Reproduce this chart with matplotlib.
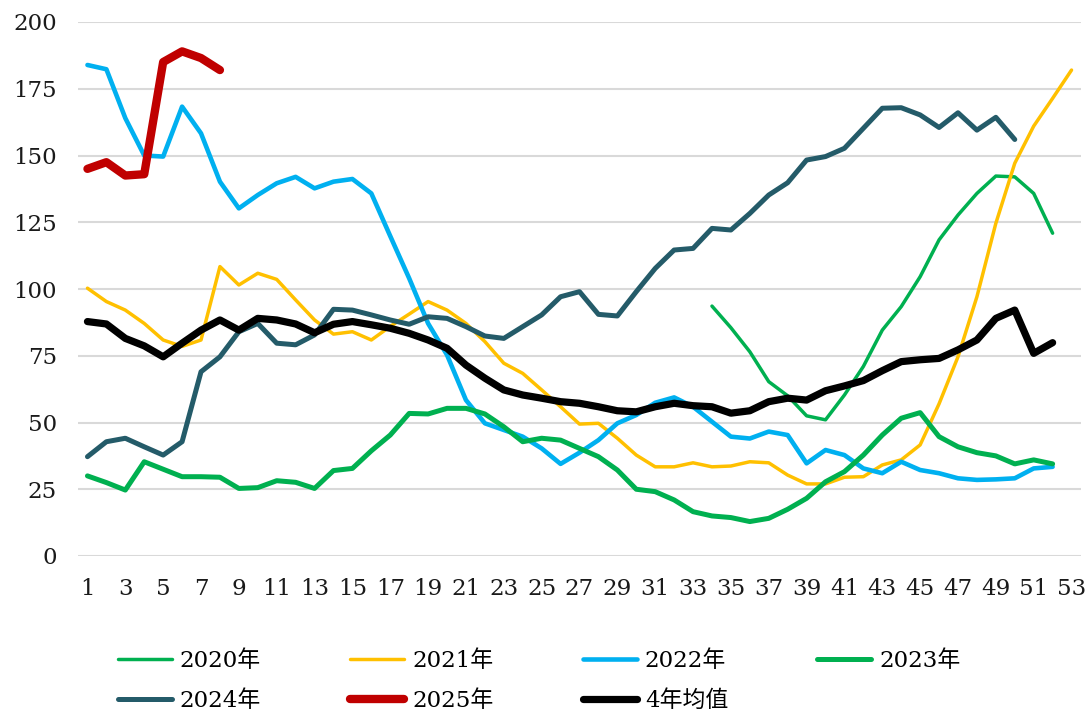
import numpy as np
import matplotlib
matplotlib.use("Agg")
import matplotlib.pyplot as plt

plt.rcParams['font.family'] = ['DejaVu Serif', 'Noto Sans CJK SC']

# 周次 1..53
weeks = np.arange(1, 54)

# 2020年 从第34周开始
y2020_start = 34
y2020 = [93.6, 85.5, 76.5, 65.3, 60.0, 52.5, 51.0, 60.3, 71.0, 84.6,
         93.4, 104.6, 118.4, 127.7, 135.8, 142.3, 142.0, 135.8, 120.9]

y2021 = [100.3, 95.3, 92.1, 87.1, 80.9, 78.5, 80.9, 108.4, 101.5, 105.9,
         103.6, 95.9, 88.4, 83.1, 84.0, 80.9, 86.0, 90.6, 95.3, 92.1,
         87.1, 80.3, 72.2, 68.4, 62.2, 55.9, 49.4, 49.7, 44.1, 37.8,
         33.4, 33.4, 34.9, 33.4, 33.7, 35.3, 34.9, 30.3, 27.0, 27.0,
         29.5, 29.7, 34.1, 36.0, 41.6, 57.0, 74.6, 97.1, 124.6, 147.1,
         161.0, 171.4, 182.0]

y2022 = [183.9, 182.3, 164.0, 150.0, 149.6, 168.3, 158.3, 140.2, 130.2, 135.2,
         139.6, 142.0, 137.7, 140.2, 141.2, 135.8, 119.8, 104.0, 87.1, 75.3,
         58.4, 49.7, 47.2, 44.7, 40.3, 34.5, 38.7, 43.4, 49.7, 52.8,
         57.4, 59.4, 55.9, 50.3, 44.7, 44.0, 46.6, 45.3, 34.7, 39.7,
         37.8, 32.8, 31.0, 35.3, 32.2, 31.0, 29.1, 28.5, 28.7, 29.1,
         32.8, 33.4]

y2023 = [30.0, 27.5, 24.7, 35.3, 32.5, 29.7, 29.7, 29.5, 25.3, 25.6,
         28.2, 27.6, 25.3, 32.0, 32.8, 39.4, 45.3, 53.4, 53.2, 55.3,
         55.3, 53.2, 48.4, 42.8, 44.1, 43.4, 40.3, 37.2, 32.2, 25.0,
         24.1, 21.0, 16.6, 15.0, 14.4, 12.9, 14.1, 17.5, 21.6, 27.8,
         31.6, 37.8, 45.3, 51.6, 53.7, 44.7, 40.9, 38.7, 37.5, 34.5,
         36.0, 34.5]

y2024 = [37.2, 42.8, 44.1, 40.9, 37.8, 42.8, 69.0, 74.6, 84.0, 87.1,
         79.7, 79.1, 82.8, 92.4, 92.1, 90.3, 88.4, 86.8, 89.6, 89.0,
         85.9, 82.4, 81.5, 85.9, 90.3, 97.1, 99.0, 90.5, 89.9, 99.0,
         107.7, 114.6, 115.2, 122.7, 122.1, 128.3, 135.2, 139.8, 148.3, 149.6,
         152.7, 160.2, 167.7, 167.9, 165.2, 160.5, 166.0, 159.5, 164.3, 156.0]

y2025 = [145.0, 147.5, 142.5, 143.0, 185.0, 189.0, 186.5, 182.0]

avg4 = [87.8, 86.9, 81.5, 78.7, 74.6, 79.7, 84.6, 88.4, 84.6, 89.0,
        88.4, 86.9, 83.6, 86.8, 87.8, 86.6, 85.3, 83.4, 80.9, 77.8,
        71.5, 66.6, 62.2, 60.3, 59.1, 57.8, 57.2, 55.9, 54.4, 54.0,
        55.9, 57.2, 56.3, 55.9, 53.5, 54.4, 57.8, 59.1, 58.4, 61.9,
        63.7, 65.7, 69.4, 72.8, 73.5, 74.0, 77.2, 80.9, 89.0, 92.1,
        75.9, 79.9]

series = [
    ("2020年", y2020_start, y2020, "#00B050", 2.5),
    ("2021年", 1, y2021, "#FFC000", 2.5),
    ("2022年", 1, y2022, "#00B0F0", 3.3),
    ("2023年", 1, y2023, "#00B050", 3.6),
    ("2024年", 1, y2024, "#245B69", 3.6),
    ("2025年", 1, y2025, "#C00000", 6.0),
    ("4年均值", 1, avg4, "#000000", 5.2),
]

fig = plt.figure(figsize=(10.92, 7.15), dpi=100)
ax = fig.add_axes([78 / 1092, 1 - 556 / 715, 1003 / 1092, 534 / 715])

lines = {}
for name, start, vals, color, lw in series:
    x = np.arange(start, start + len(vals))
    lines[name], = ax.plot(x, vals, color=color, lw=lw, label=name,
                           solid_capstyle='round', solid_joinstyle='round')

ax.set_xlim(0.5, 53.5)
ax.set_ylim(0, 200)
ax.set_yticks(np.arange(0, 201, 25))
ax.set_xticks(weeks[::2])
ax.set_xticklabels([str(w) for w in weeks[::2]])
ax.grid(axis='y', color='#d9d9d9', lw=1.5)
ax.set_axisbelow(True)
for s in ax.spines.values():
    s.set_visible(False)
ax.tick_params(axis='both', length=0, labelsize=16.5, colors='#1a1a1a')
ax.tick_params(axis='y', pad=15)
ax.tick_params(axis='x', pad=16)

# 图例按行排列：matplotlib 按列填充，所以重排顺序
order = ["2020年", "2024年", "2021年", "2025年", "2022年", "4年均值", "2023年"]
fig.legend([lines[n] for n in order], order,
           loc='upper left', bbox_to_anchor=(118 / 1092, 1 - 650 / 715),
           ncol=4, frameon=False, fontsize=16.5, handlelength=2.35,
           handletextpad=0.35, columnspacing=3.9, labelspacing=0.78,
           borderpad=0, borderaxespad=0)

fig.savefig("out.png", dpi=100)
